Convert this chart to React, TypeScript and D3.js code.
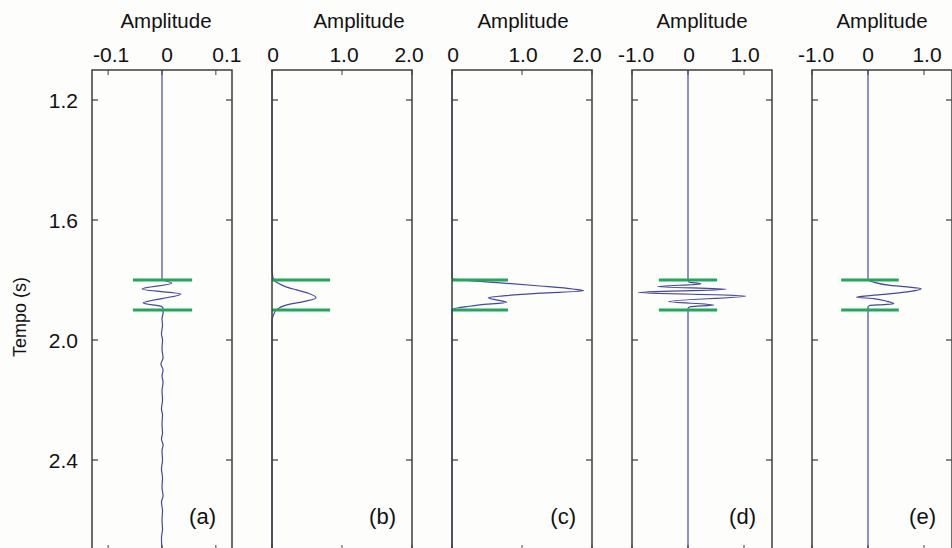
import React from "react";
import * as d3 from "d3";

// ---------- data ----------
const TIME_DOMAIN: [number, number] = [1.1, 2.7];
const Y_TICKS = [1.2, 1.6, 2.0, 2.4];
const Y_TICK_LABELS = ["1.2", "1.6", "2.0", "2.4"];
const PANEL_LABELS = ["(a)", "(b)", "(c)", "(d)", "(e)"];
const AXIS_TITLE = "Amplitude";
const Y_TITLE = "Tempo (s)";

const X_DOMAINS: [number, number][] = [
  [-0.13, 0.13],
  [0, 2],
  [0, 2],
  [-1, 1.5],
  [-1, 1.5],
];
const X_TICKS = [
  [-0.1, 0, 0.1],
  [0, 1, 2],
  [0, 1, 2],
  [-1, 0, 1],
  [-1, 0, 1],
];
const X_TICK_LABELS = [
  ["-0.1", "0", "0.1"],
  ["0", "1.0", "2.0"],
  ["0", "1.0", "2.0"],
  ["-1.0", "0", "1.0"],
  ["-1.0", "0", "1.0"],
];

// window (green markers) times and horizontal extents
const WINDOW_TIMES = [1.8, 1.9];
const WINDOW_EXTENTS: [number, number][] = [
  [-0.054, 0.056],
  [0, 0.83],
  [0, 0.8],
  [-0.52, 0.52],
  [-0.48, 0.55],
];

// traces: [time, amplitude]
const traceA: [number, number][] = [
  [1.1, 0], [1.795, 0], [1.801, 0.004], [1.811, 0.018], [1.83, -0.037],
  [1.847, 0.035], [1.877, -0.035], [1.889, 0.0], [1.896, 0.002], [1.91, 0.002],
  [1.93, 0.0], [1.95, 0.001], [1.98, -0.001], [2.0, 0.001], [2.03, 0.0],
  [2.06, 0.002], [2.08, -0.002], [2.1, 0.002], [2.12, 0.0], [2.14, 0.002],
  [2.17, 0.0], [2.2, 0.001], [2.23, -0.001], [2.25, 0.001], [2.28, 0.0],
  [2.31, 0.001], [2.33, -0.001], [2.35, 0.002], [2.37, 0.0], [2.4, 0.001],
  [2.43, -0.001], [2.46, 0.001], [2.49, 0.0], [2.52, 0.002], [2.54, -0.001],
  [2.57, 0.001], [2.6, 0.0], [2.63, 0.001], [2.66, -0.001], [2.7, 0.0],
];
const traceB: [number, number][] = [
  [1.1, 0], [1.76, 0], [1.78, 0.005], [1.795, 0.02], [1.805, 0.05],
  [1.811, 0.09], [1.822, 0.19], [1.833, 0.35], [1.844, 0.52], [1.859, 0.63],
  [1.872, 0.45], [1.883, 0.21], [1.898, 0.07], [1.917, 0.02], [1.935, 0],
  [2.7, 0],
];
const traceC: [number, number][] = [
  [1.1, 0], [1.794, 0], [1.803, 0.3], [1.811, 0.78], [1.82, 1.26],
  [1.83, 1.73], [1.836, 1.88], [1.844, 1.26], [1.853, 0.73], [1.859, 0.52],
  [1.867, 0.65], [1.874, 0.78], [1.883, 0.4], [1.898, 0], [2.7, 0],
];
const traceD: [number, number][] = [
  [1.1, 0], [1.802, 0], [1.807, 0.02], [1.813, 0.23], [1.822, -0.55],
  [1.831, 0.68], [1.842, -0.89], [1.853, 1.03], [1.872, -0.35], [1.883, 0.46],
  [1.889, 0.05], [1.894, 0], [2.7, 0],
];
const traceE: [number, number][] = [
  [1.1, 0], [1.8, 0], [1.807, 0.1], [1.818, 0.4], [1.823, 0.7],
  [1.829, 0.95], [1.838, 0.76], [1.849, 0.22], [1.857, -0.21], [1.862, 0.1],
  [1.871, 0.34], [1.879, 0.46], [1.882, 0.27], [1.885, 0.03], [1.89, 0],
  [2.7, 0],
];
const TRACES = [traceA, traceB, traceC, traceD, traceE];

// ---------- layout ----------
const W = 952;
const H = 548;
const PANEL_LEFT0 = 92;
const PANEL_STEP = 180;
const PANEL_W = 140;
const PANEL_TOP = 70;
const PANEL_BOTTOM = 550;
const TITLE_DX = [4, 17, 1, 0, 0];
const TICKLABEL_DX = [
  [3, 5, 11],
  [1, 2, -3],
  [1, 1, -5],
  [4, 1, 1],
  [4, 0, 3],
];

const FONT = "'Liberation Sans', Arial, Helvetica, sans-serif";
const TRACE_COLOR = "#4646a6";
const GREEN = "#1fa85a";
const AXIS_COLOR = "#3c3c3c";

export default function App() {
  const y = d3.scaleLinear().domain(TIME_DOMAIN).range([PANEL_TOP, PANEL_BOTTOM]);

  return (
    <svg
      width={W}
      height={H}
      style={{ position: "absolute", left: 0, top: 0, background: "#fdfdfb" }}
      fontFamily={FONT}
    >
      <rect x={0} y={0} width={W} height={H} fill="#fdfdfb" />
      <defs>
        {X_DOMAINS.map((_, i) => {
          const left = PANEL_LEFT0 + i * PANEL_STEP;
          return (
            <clipPath id={`clip${i}`} key={i}>
              <rect x={left - 1} y={PANEL_TOP} width={PANEL_W + 2} height={PANEL_BOTTOM - PANEL_TOP} />
            </clipPath>
          );
        })}
      </defs>

      {/* y axis title */}
      <text
        transform={`translate(26,317) rotate(-90)`}
        textAnchor="middle"
        fontSize={18}
        fill="#111"
      >
        {Y_TITLE}
      </text>

      {/* y tick labels */}
      {Y_TICKS.map((t, k) => (
        <text key={k} x={78} y={y(t) + 7.5} textAnchor="end" fontSize={21} fill="#111">
          {Y_TICK_LABELS[k]}
        </text>
      ))}

      {X_DOMAINS.map((dom, i) => {
        const left = PANEL_LEFT0 + i * PANEL_STEP;
        const x = d3.scaleLinear().domain(dom).range([left, left + PANEL_W]);
        const line = d3
          .line<[number, number]>()
          .x((d) => x(d[1]))
          .y((d) => y(d[0]))
          .curve(d3.curveMonotoneY);
        const [g0, g1] = WINDOW_EXTENTS[i];
        return (
          <g key={i}>
            {/* title */}
            <text
              x={left + PANEL_W / 2 + TITLE_DX[i]}
              y={28}
              textAnchor="middle"
              fontSize={20.5}
              fill="#111"
            >
              {AXIS_TITLE}
            </text>
            {/* x tick labels */}
            {X_TICKS[i].map((v, k) => (
              <text
                key={k}
                x={x(v) + TICKLABEL_DX[i][k]}
                y={61.5}
                textAnchor="middle"
                fontSize={21}
                fill="#111"
              >
                {X_TICK_LABELS[i][k]}
              </text>
            ))}
            {/* trace */}
            <path
              d={line(TRACES[i]) || ""}
              fill="none"
              stroke={TRACE_COLOR}
              strokeWidth={1.2}
              clipPath={`url(#clip${i})`}
            />
            {/* window markers */}
            {WINDOW_TIMES.map((t, k) => (
              <line
                key={k}
                x1={x(g0)}
                x2={x(g1)}
                y1={y(t)}
                y2={y(t)}
                stroke={GREEN}
                strokeWidth={3}
              />
            ))}
            {/* frame */}
            <rect
              x={left}
              y={PANEL_TOP}
              width={PANEL_W}
              height={PANEL_BOTTOM - PANEL_TOP}
              fill="none"
              stroke={AXIS_COLOR}
              strokeWidth={1.5}
            />
            {/* y ticks (inward, both sides) */}
            {Y_TICKS.map((t, k) => (
              <g key={k}>
                <line x1={left} x2={left + 6} y1={y(t)} y2={y(t)} stroke={AXIS_COLOR} strokeWidth={1.2} />
                <line
                  x1={left + PANEL_W - 6}
                  x2={left + PANEL_W}
                  y1={y(t)}
                  y2={y(t)}
                  stroke={AXIS_COLOR}
                  strokeWidth={1.2}
                />
              </g>
            ))}
            {/* x ticks (inward, top and bottom) */}
            {X_TICKS[i].map((v, k) => (
              <g key={k}>
                <line x1={x(v)} x2={x(v)} y1={PANEL_TOP} y2={PANEL_TOP + 5} stroke={AXIS_COLOR} strokeWidth={1} />
                <line
                  x1={x(v)}
                  x2={x(v)}
                  y1={PANEL_BOTTOM - 5}
                  y2={PANEL_BOTTOM}
                  stroke={AXIS_COLOR}
                  strokeWidth={1}
                />
              </g>
            ))}
            {/* panel label */}
            <text
              x={left + PANEL_W - 16}
              y={524}
              textAnchor="end"
              fontSize={22}
              fill="#111"
            >
              {PANEL_LABELS[i]}
            </text>
          </g>
        );
      })}
    </svg>
  );
}
